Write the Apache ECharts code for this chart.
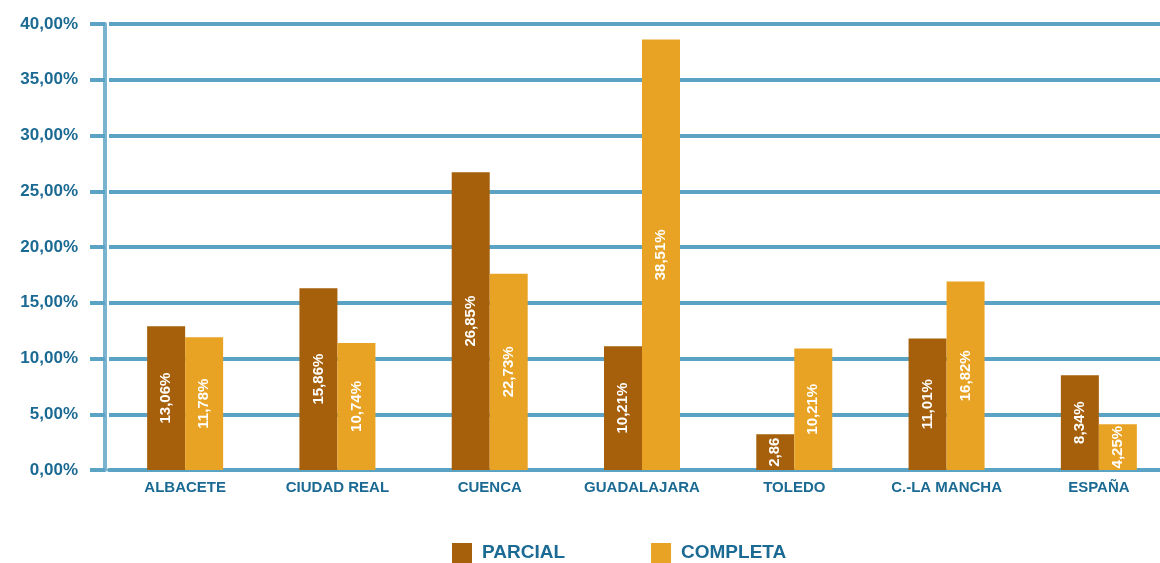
<!DOCTYPE html>
<html><head><meta charset="utf-8">
<script src="https://cdn.jsdelivr.net/npm/echarts@6/dist/echarts.min.js"></script>
<style>html,body{margin:0;padding:0;background:#fff}#c{width:1160px;height:563px}</style>
</head><body><div id="c"></div>
<script>
const categories = ['ALBACETE','CIUDAD REAL','CUENCA','GUADALAJARA','TOLEDO','C.-LA MANCHA','ESPAÑA'];
const seriesNames = ['PARCIAL','COMPLETA'];
const parcialValues = [12.9, 16.3, 26.7, 11.1, 3.2, 11.8, 8.5];
const completaValues = [11.9, 11.4, 17.6, 38.6, 10.9, 16.9, 4.1];
const parcialLabels = ['13,06%','15,86%','26,85%','10,21%','2,86','11,01%','8,34%'];
const completaLabels = ['11,78%','10,74%','22,73%','38,51%','10,21%','16,82%','4,25%'];
const yTicks = [0,5,10,15,20,25,30,35,40];

const blue = '#5ba3c5';
const textBlue = '#1b6a93';
const font = "'Liberation Sans',Arial,sans-serif";
const chart = echarts.init(document.getElementById('c'));
function lbl(arr){return {show:true,position:'inside',rotate:90,color:'#fff',fontFamily:font,fontSize:15,fontWeight:'bold',formatter:p=>arr[p.dataIndex]};}
chart.setOption({
  animation:false,
  grid:{left:109,right:-15,top:24,bottom:93,containLabel:false,outerBoundsMode:'none'},
  legend:{top:543,left:452,padding:0,itemWidth:20,itemHeight:20,itemGap:86,icon:'rect',
    textStyle:{color:textBlue,fontSize:19,lineHeight:20,fontWeight:'bold',fontFamily:font,padding:[0,0,0,5]},
    data:seriesNames},
  xAxis:{type:'category',data:categories,
    axisLine:{lineStyle:{color:blue,width:4}},axisTick:{show:false},
    axisLabel:{color:textBlue,fontFamily:font,fontWeight:'bold',fontSize:15,margin:10,interval:0}},
  yAxis:{type:'value',min:0,max:40,interval:5,offset:4,
    axisLine:{show:true,lineStyle:{color:'#7ab3d0',width:4}},
    axisTick:{show:true,length:15,lineStyle:{color:blue,width:4}},
    splitLine:{lineStyle:{color:blue,width:4}},
    axisLabel:{color:textBlue,fontFamily:font,fontWeight:'bold',fontSize:17,margin:27,
      formatter:v=>yTicks.includes(v)?v.toFixed(2).replace('.',',')+'%':''}},
  series:[
    {name:seriesNames[0],type:'bar',data:parcialValues,barWidth:38,barGap:'0%',itemStyle:{color:'#a6600b'},label:lbl(parcialLabels)},
    {name:seriesNames[1],type:'bar',data:completaValues,barWidth:38,barGap:'0%',itemStyle:{color:'#e9a324'},label:lbl(completaLabels)}
  ]
});
</script></body></html>
